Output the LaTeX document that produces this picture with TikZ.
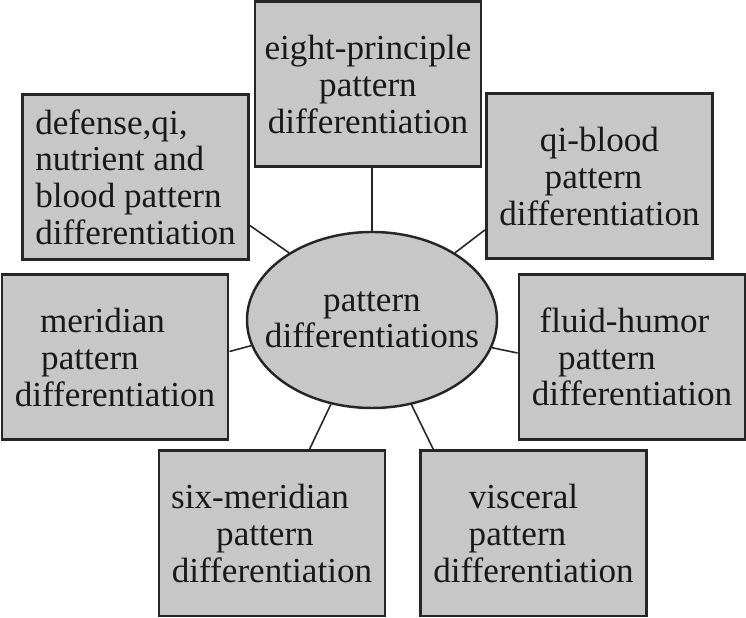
\documentclass[tikz,border=0pt]{standalone}
\usepackage{fontspec}
\setmainfont{Liberation Serif}
\usetikzlibrary{shapes.geometric}

% pad a line on the right, so that it sits a little to the left
\newcommand{\padr}[1]{\makebox[#1]{}}

\begin{document}
\begin{tikzpicture}[
  font=\fontsize{20}{20.8}\selectfont,
  line width=1pt,
  pbox/.style={draw=black!85, fill=black!22, line width=1.7pt,
    minimum width=4.52cm, minimum height=3.3cm,
    align=center, inner sep=2pt, text=black!90},
  link/.style={draw=black!85, line width=0.9pt}
]

% ------------------- Frame ------------------- %
\useasboundingbox (0,0) rectangle (14.92,12.36);

% ------------------- Centre: all differentiations ------------------- %
\node[ellipse, draw=black!85, fill=black!22, line width=1.4pt,
  minimum width=5cm, minimum height=3.52cm, inner sep=0pt,
  label={[align=center, text=black!90]center:pattern\\differentiations}]
  (hub) at (7.44,5.96) {};

% ------------------- Boxes round the centre ------------------- %
\node[pbox] (eight) at (7.36,10.67) {eight-principle\\pattern\\differentiation};
\node[pbox, align=left] (defense) at (2.71,8.82)
  {defense,qi,\\nutrient and\\blood pattern\\differentiation};
\node[pbox] (qiblood) at (11.99,8.83)
  {qi-blood\\pattern\padr{0.24cm}\\differentiation};
\node[pbox] (meridian) at (2.30,5.21)
  {meridian\padr{0.5cm}\\pattern\padr{1cm}\\differentiation};
\node[pbox] (fluid) at (12.64,5.22)
  {fluid-humor\padr{0.3cm}\\pattern\padr{1cm}\\differentiation};
\node[pbox] (sixmer) at (5.44,1.69)
  {six-meridian\padr{0.48cm}\\pattern\padr{0.28cm}\\differentiation};
\node[pbox] (visceral) at (10.67,1.69)
  {visceral\padr{0.4cm}\\pattern\padr{0.64cm}\\differentiation};

% Spokes from the ellipse out to each box
\draw[link] (hub.north) -- (hub.north |- eight.south);
\draw[link] (hub.141) -- (defense.-23);
\draw[link] (hub.39) -- (qiblood.-155);
\draw[link] (hub.192) -- (meridian.3);
\draw[link] (hub.-13) -- (fluid.178);
\draw[link] (hub.244) -- (sixmer.66);
\draw[link] (hub.-65) -- (visceral.140);

\end{tikzpicture}
\end{document}
